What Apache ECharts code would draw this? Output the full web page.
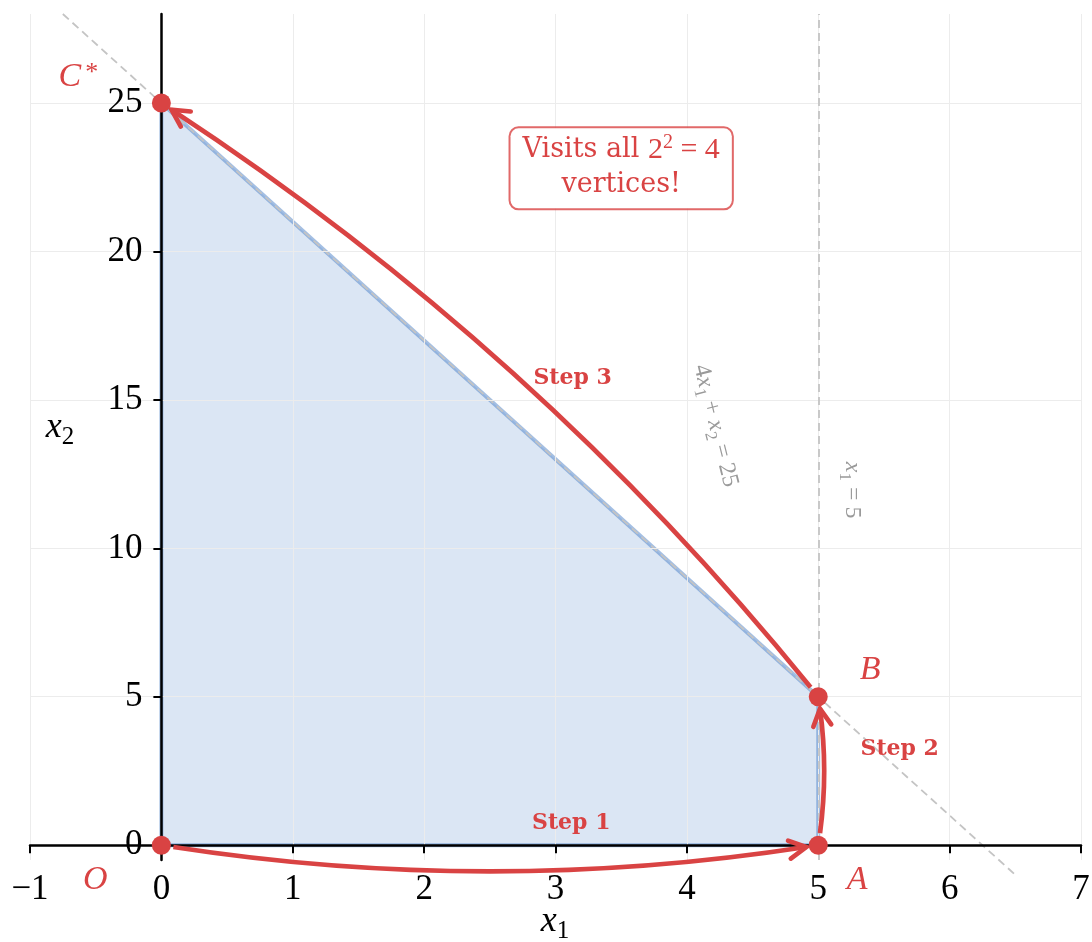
<!DOCTYPE html>
<html><head><meta charset="utf-8">
<script src="https://cdn.jsdelivr.net/npm/echarts@6/dist/echarts.min.js"></script>
<style>html,body{margin:0;padding:0;background:#fff}#c{width:1092px;height:942px}</style>
</head><body><div id="c"></div>
<script>
// ---- data ----
const xTicks = [-1, 0, 1, 2, 3, 4, 5, 6, 7];
const yTicks = [0, 5, 10, 15, 20, 25];
const vertexNames = ['O', 'A', 'B', 'C*'];
const vertexX = [0, 5, 5, 0];
const vertexY = [0, 0, 5, 25];
const stepFrom = [0, 1, 2];
const stepTo = [1, 2, 3];
const stepNames = ['Step 1', 'Step 2', 'Step 3'];
const stepLabelX = [3.12, 5.62, 3.13];
const stepLabelY = [0.74, 3.23, 15.73];
const constraintLine = [[-0.75, 28], [6.5, -1]];
const boundX = 5;
const constraintLabelPos = [[4.24, 14.15], [5.28, 11.96]];
const noteLabelPos = [3.5, 22.8];

// ---- style ----
const RED = '#d94343';
const RAD = 0.08, SHRINK = 12, HEAD_L = 17, HEAD_W = 9;
const MATH = 'Liberation Serif';
const SERIF = 'DejaVu Serif';
const vertexOffsets = [[-66, 35], [39, 35], [52, -27], [-83, -26]];
const Y_LABEL_MARGIN = 19;

const chart = echarts.init(document.getElementById('c'), null, {renderer: 'canvas'});

const vertexData = vertexX.map((x, i) => ({
  value: [x, vertexY[i]],
  label: {
    show: true, position: 'inside', offset: vertexOffsets[i],
    formatter: vertexNames[i] === 'C*' ? '{i|C}{s|*}' : '{i|' + vertexNames[i] + '}',
    rich: {
      i: {fontFamily: MATH, fontStyle: 'italic', fontSize: 34, color: RED},
      s: {fontFamily: MATH, fontSize: 26, color: RED, verticalAlign: 'top', lineHeight: 34, padding: [0, 0, 0, 4]}
    }
  }
}));

const arrowData = stepFrom.map((f, i) => [vertexX[f], vertexY[f], vertexX[stepTo[i]], vertexY[stepTo[i]]]);

function renderArrow(params, api) {
  const p0 = api.coord([api.value(0), api.value(1)]);
  const p2 = api.coord([api.value(2), api.value(3)]);
  const dx = p2[0] - p0[0], dy = p2[1] - p0[1];
  const c = [(p0[0] + p2[0]) / 2 - RAD * dy, (p0[1] + p2[1]) / 2 + RAD * dx];
  const len = Math.hypot(dx, dy);
  const t0 = SHRINK / len, t1 = 1 - SHRINK / len;
  const B = t => [
    (1 - t) * (1 - t) * p0[0] + 2 * (1 - t) * t * c[0] + t * t * p2[0],
    (1 - t) * (1 - t) * p0[1] + 2 * (1 - t) * t * c[1] + t * t * p2[1]
  ];
  const s = B(t0), e = B(t1);
  const a = (1 - t0) * (1 - t1), b = (1 - t0) * t1 + t0 * (1 - t1), d = t0 * t1;
  const cs = [a * p0[0] + b * c[0] + d * p2[0], a * p0[1] + b * c[1] + d * p2[1]];
  let ux = e[0] - cs[0], uy = e[1] - cs[1];
  const n = Math.hypot(ux, uy); ux /= n; uy /= n;
  const head = [
    [e[0] - HEAD_L * ux - HEAD_W * uy, e[1] - HEAD_L * uy + HEAD_W * ux],
    [e[0], e[1]],
    [e[0] - HEAD_L * ux + HEAD_W * uy, e[1] - HEAD_L * uy - HEAD_W * ux]
  ];
  return {
    type: 'group',
    children: [
      {type: 'bezierCurve', shape: {x1: s[0], y1: s[1], x2: e[0], y2: e[1], cpx1: cs[0], cpy1: cs[1]},
       style: {stroke: RED, lineWidth: 4.7, fill: null}},
      {type: 'polyline', shape: {points: head},
       style: {stroke: RED, lineWidth: 4.7, fill: null, lineJoin: 'miter', lineCap: 'round'}}
    ]
  };
}

function renderRegion(params, api) {
  const pts = vertexX.map((x, i) => api.coord([x, vertexY[i]]));
  return {
    type: 'polygon', shape: {points: pts},
    style: {fill: 'rgba(74,128,200,0.2)', stroke: 'rgba(74,128,200,0.5)', lineWidth: 4}
  };
}

const titleRich = () => ({
  i: {fontFamily: MATH, fontStyle: 'italic', fontSize: 36, fill: '#000', color: '#000'},
  s: {fontFamily: MATH, fontSize: 25, fill: '#000', color: '#000', verticalAlign: 'bottom', lineHeight: 44}
});

const option = {
  animation: false,
  backgroundColor: '#fff',
  grid: {left: 30, right: 11, top: 14, bottom: 82, containLabel: false, outerBoundsMode: 'none'},
  xAxis: {
    type: 'value', min: xTicks[0], max: xTicks[xTicks.length - 1], interval: 1, z: 5,
    axisLine: {onZero: true, lineStyle: {color: '#000', width: 2.5}},
    axisTick: {show: true, length: 8, lineStyle: {color: '#000', width: 2}},
    axisLabel: {fontFamily: MATH, fontSize: 35, color: '#000', margin: 12,
      formatter: v => v < 0 ? '\u2212' + (-v) : String(v)},
    splitLine: {show: true, lineStyle: {color: '#ececec', width: 1}}
  },
  yAxis: {
    type: 'value', min: -0.5, max: 28, z: 5,
    axisLine: {onZero: true, lineStyle: {color: '#000', width: 2.5}},
    axisTick: {show: true, length: 8, customValues: yTicks, lineStyle: {color: '#000', width: 2}},
    axisLabel: {fontFamily: MATH, fontSize: 35, color: '#000', margin: Y_LABEL_MARGIN, customValues: yTicks},
    splitLine: {show: false}
  },
  graphic: [
    {type: 'text', x: 555, y: 922, z: 20, style: {text: '{i|x}{s|1}', rich: titleRich(), align: 'center', verticalAlign: 'middle'}},
    {type: 'text', x: 60, y: 428, z: 20, style: {text: '{i|x}{s|2}', rich: titleRich(), align: 'center', verticalAlign: 'middle'}}
  ],
  series: [
    {
      type: 'line', data: [], z: 1, silent: true,
      markLine: {
        silent: true, symbol: 'none', label: {show: false}, animation: false,
        data: [
          ...yTicks.map(v => ({yAxis: v, lineStyle: {color: '#ececec', width: 1, type: 'solid'}})),
          {xAxis: boundX, lineStyle: {color: '#c4c4c4', width: 1.8, type: [8, 5]}}
        ]
      }
    },
    {type: 'custom', renderItem: renderRegion, data: [[0, 0]], z: 2, silent: true},
    {
      type: 'line', data: constraintLine, clip: false, symbol: 'none', z: 3, silent: true,
      lineStyle: {color: '#c4c4c4', width: 1.8, type: [8, 5]}
    },
    {type: 'custom', renderItem: renderArrow, data: arrowData, z: 10, silent: true, clip: false},
    {
      type: 'scatter', data: vertexData, symbolSize: 19, z: 11, silent: true,
      itemStyle: {color: RED, opacity: 1}
    },
    {
      type: 'scatter', symbolSize: 0, z: 12, silent: true, itemStyle: {opacity: 1},
      data: stepNames.map((s, i) => ({value: [stepLabelX[i], stepLabelY[i]], name: s})),
      label: {show: true, position: 'inside', formatter: p => p.name,
        fontFamily: SERIF, fontWeight: 'bold', fontSize: 22, color: RED}
    },
    {
      type: 'scatter', symbolSize: 0, z: 12, silent: true, itemStyle: {opacity: 1},
      data: [
        {value: constraintLabelPos[0], label: {rotate: -76,
          formatter: '{n|4}{i|x}{s|1}{n| + }{i|x}{s|2}{n| = 25}'}},
        {value: constraintLabelPos[1], label: {rotate: -90,
          formatter: '{i|x}{s|1}{n| = 5}'}}
      ],
      label: {show: true, position: 'inside',
        rich: {
          n: {fontFamily: MATH, fontSize: 24, color: '#9a9a9a', lineHeight: 30, verticalAlign: 'bottom'},
          i: {fontFamily: MATH, fontStyle: 'italic', fontSize: 24, color: '#9a9a9a', lineHeight: 30, verticalAlign: 'bottom'},
          s: {fontFamily: MATH, fontSize: 17, color: '#9a9a9a', lineHeight: 30, verticalAlign: 'bottom', padding: [0, 0, -4, 0]}
        }}
    },
    {
      type: 'scatter', symbolSize: 0, z: 13, silent: true, itemStyle: {opacity: 1},
      data: [{value: noteLabelPos}],
      label: {show: true, position: 'inside',
        formatter: '{t|Visits all }{m|2}{p|2}{m| = 4}\n{t|vertices!}',
        backgroundColor: '#fff', borderColor: 'rgba(217,67,67,0.8)', borderWidth: 2,
        borderRadius: 8, padding: [4, 12, 6, 12], align: 'center',
        rich: {
          t: {fontFamily: SERIF, fontSize: 27, color: RED, lineHeight: 35},
          m: {fontFamily: MATH, fontSize: 30, color: RED, lineHeight: 35},
          p: {fontFamily: MATH, fontSize: 20, color: RED, lineHeight: 35, verticalAlign: 'top'}
        }}
    }
  ]
};
chart.setOption(option);

// y labels: place them beside the zero-positioned y axis line
const px0 = chart.convertToPixel({xAxisIndex: 0}, 0);
const pxL = chart.convertToPixel({xAxisIndex: 0}, xTicks[0]);
chart.setOption({yAxis: {axisLabel: {margin: Y_LABEL_MARGIN - (px0 - pxL)}}});
</script>
</body></html>
